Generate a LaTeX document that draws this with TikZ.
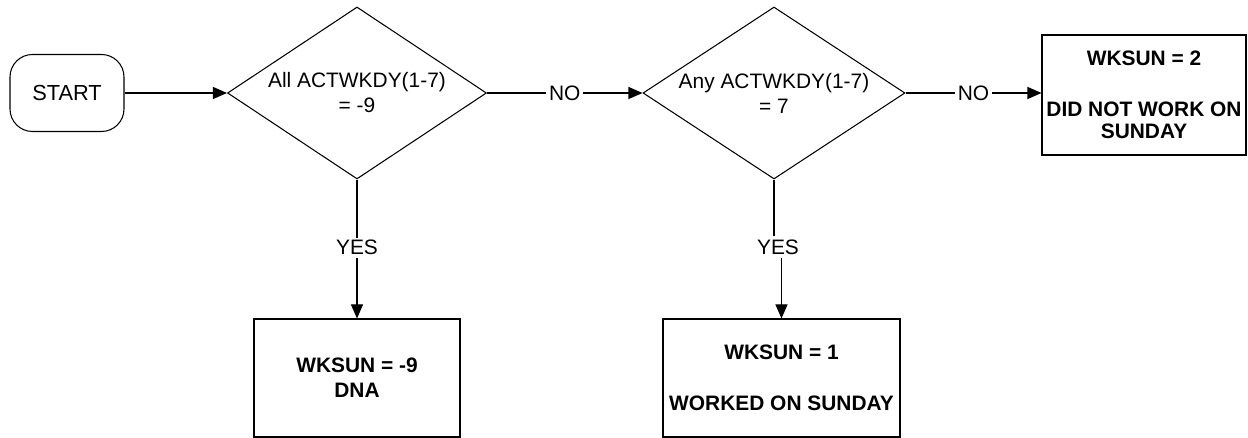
\documentclass[tikz,border=0pt]{standalone}
\usepackage{fontspec}
\setmainfont{Liberation Sans}
\usetikzlibrary{positioning,shapes.geometric,arrows.meta}
\tikzset{
	term/.style={draw=black,rounded corners=0.45cm,minimum width=2.28cm,minimum height=1.54cm,
		font=\fontsize{12.4}{14}\selectfont},
	decision/.style={diamond,draw=black,inner sep=-0.3cm,shape aspect=1.5,minimum height=3.44cm,
		align=center,font=\fontsize{11.9}{14.2}\selectfont},
	outbox/.style={draw=black,align=center,inner xsep=2pt,minimum height=2.36cm,
		font=\bfseries\fontsize{11.9}{12.5}\selectfont},
	lbl/.style={fill=white,inner sep=1.5pt,font=\fontsize{11.9}{14}\selectfont},
	link/.style={draw=black},
	arr/.style={link,-{Triangle[length=0.28cm,width=0.24cm]}},
}
\begin{document}
\begin{tikzpicture}[line width=0.6pt]
	\useasboundingbox (0,0) rectangle (24.96,-8.76);
	% top row
	\node[term] (start) at (1.34,-1.86) {START};
	\node[decision,minimum width=5.18cm] (dia1) at (7.14,-1.86) {All ACTWKDY(1-7)\\= -9};
	\node[decision,minimum width=5.24cm] (dia2) at (15.48,-1.86) {Any ACTWKDY(1-7)\\= 7};
	\node[outbox,minimum width=4.08cm,minimum height=2.4cm] (res2) at (22.88,-1.9)
		{WKSUN = 2\\[0.58cm]DID NOT WORK ON\\SUNDAY};
	% bottom row
	\node[outbox,minimum width=4.12cm] (res9) at (7.14,-7.56) {WKSUN = -9\\[0.06cm]DNA};
	\node[outbox,minimum width=4.74cm] (res1) at (15.63,-7.56) {WKSUN = 1\\[0.58cm]WORKED ON SUNDAY};
	% connectors
	\draw[arr] (start.east) -- (start.east -| dia1.west);
	\draw[arr] (dia1.east) -- node[lbl] {NO} (dia2.west);
	\draw[arr] (dia2.east) -- node[lbl] {NO} (dia2.east -| res2.west);
	\draw[arr] (dia1.south) -- node[lbl,pos=0.49] {YES} (res9.north);
	\node[lbl] (yes2) at (15.56,-4.94) {YES};
	\draw[link] (dia2.south) -- (dia2.south |- yes2.north);
	\draw[arr] (res1.north |- yes2.south) -- (res1.north);
\end{tikzpicture}
\end{document}
